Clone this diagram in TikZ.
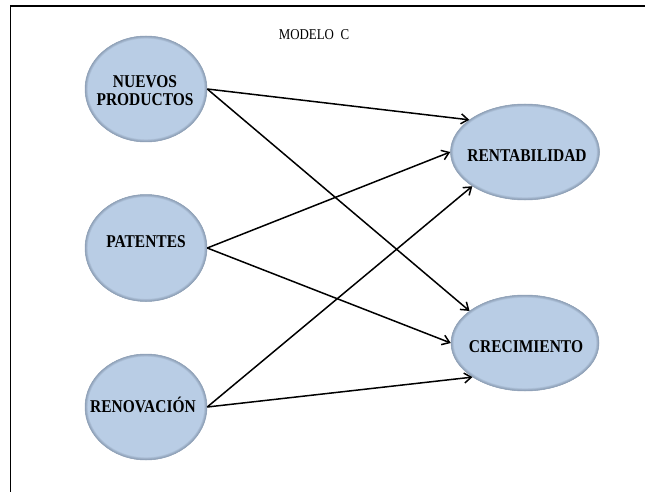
\documentclass[tikz,border=0pt]{standalone}
\usepackage{fontspec}
\setmainfont{Liberation Serif}
\newfontfamily\lblfont{Liberation Serif}[FakeStretch=0.86]
\newfontfamily\ttlfont{Liberation Serif}[FakeStretch=0.86]
\usetikzlibrary{shapes.geometric,arrows.meta}
\definecolor{ellfill}{RGB}{185,205,229}
\definecolor{ellrim}{RGB}{110,126,148}
\tikzset{
  x=1pt, y=-1pt,
  bubble/.style 2 args={ellipse, inner sep=0pt, fill=ellfill,
    minimum width=2*#1 pt, minimum height=2*#2 pt,
    draw=ellrim!60!ellfill, line width=0.5pt,
    path picture={
      \foreach \k in {1,...,6}{
        \draw[ellrim, opacity=0.11, line width=\k*0.9pt]
          (path picture bounding box.center) ellipse [x radius=#1pt, y radius=#2pt];
      }}},
  lbl/.style={font=\lblfont\bfseries\fontsize{18}{18}\selectfont, inner sep=0pt, align=center},
  link/.style={draw=black, line width=1.5pt, -{Straight Barb[length=7pt,width=10pt,line width=1.5pt]}},
}
\begin{document}
\begin{tikzpicture}
\useasboundingbox (0,0) rectangle (645,492);
% outer frame (continues past the right and bottom edges)
\draw[line width=1.7pt, line cap=rect] (645,6) -- (10.5,6) -- (10.5,492);

\node[font=\ttlfont\fontsize{15}{16}\selectfont, anchor=base, inner sep=0pt] (title) at (314,40) {MODELO\ \ C};

% causes
\node[bubble={61}{53}]   (np)  at (146,89)  {};
\node[bubble={61}{53.5}] (pat) at (146,248) {};
\node[bubble={61}{53}]   (ren) at (146,407) {};
% effects
\node[bubble={74.5}{48}] (rent) at (525,152) {};
\node[bubble={74}{48}]   (crec) at (525,343) {};

\node[lbl] (tnp)   at (145,90.5) {NUEVOS\\PRODUCTOS};
\node[lbl, anchor=base] (tpat)  at (146,247) {PATENTES};
\node[lbl, anchor=base] (tren)  at (143,412) {RENOVACIÓN};
\node[lbl, anchor=base] (trent) at (527,161) {RENTABILIDAD};
\node[lbl, anchor=base] (tcrec) at (526,352) {CRECIMIENTO};

% links
\draw[link] (np.east)  -- (rent.150);
\draw[link] (np.east)  -- (crec.150);
\draw[link] (pat.east) -- (rent.west);
\draw[link] (pat.east) -- (crec.west);
\draw[link] (ren.east) -- (rent.213);
\draw[link] (ren.east) -- (crec.213);
\end{tikzpicture}
\end{document}
